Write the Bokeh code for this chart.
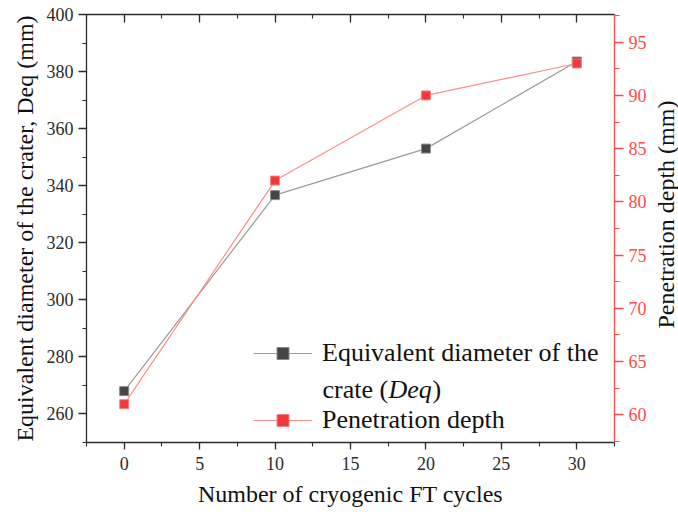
import math
from bokeh.plotting import figure
from bokeh.models import (Range1d, LinearAxis, SingleIntervalTicker, Legend,
                          LegendItem, Label)
from bokeh.embed import file_html
from bokeh.resources import INLINE

# Freeze-thaw test results
cycles = [0, 10, 20, 30]
deq_mm = [268, 336.7, 353, 383.5]          # equivalent crater diameter
depth_mm = [61, 82, 90, 93]               # penetration depth

x_ticks_interval = 5
deq_ticks_interval = 20
depth_ticks_interval = 5

FONT = "Liberation Serif"
RED = "#FF4A4A"
AXIS = "#2b2b2b"

p = figure(frame_width=528, frame_height=428,
           min_border_left=86, min_border_right=64,
           min_border_top=14, min_border_bottom=75,
           x_range=Range1d(-2.5, 32.5), y_range=Range1d(250, 400),
           output_backend="svg", toolbar_location=None,
           x_axis_type=None, y_axis_type=None)
p.outline_line_color = None
p.grid.visible = False
p.background_fill_color = "white"
p.border_fill_color = "white"

p.extra_y_ranges = {"depth": Range1d(57.4, 97.6)}


def style_axis(ax, color=AXIS, label_color=AXIS):
    ax.axis_line_color = color
    ax.axis_line_width = 1.3
    ax.major_tick_line_color = color
    ax.minor_tick_line_color = color
    ax.major_tick_line_width = 1.3
    ax.minor_tick_line_width = 1.1
    ax.major_label_text_font = FONT
    ax.major_label_text_font_size = "18px"
    ax.major_label_text_color = label_color
    ax.axis_label_text_font = FONT
    ax.axis_label_text_font_size = "24px"
    ax.axis_label_text_font_style = "normal"
    ax.axis_label_text_color = "#111111"


# bottom axis
xax = LinearAxis(ticker=SingleIntervalTicker(interval=x_ticks_interval, num_minor_ticks=2),
                 axis_label="Number of cryogenic FT cycles")
style_axis(xax)
xax.major_tick_in, xax.major_tick_out = 0, 7
xax.minor_tick_in, xax.minor_tick_out = 0, 4
xax.major_label_standoff = 7
xax.axis_label_standoff = 8
p.add_layout(xax, "below")

# top frame edge with inward ticks, no tick labels
tax = LinearAxis(ticker=SingleIntervalTicker(interval=x_ticks_interval, num_minor_ticks=2))
style_axis(tax)
tax.major_tick_in, tax.major_tick_out = 8, 0
tax.minor_tick_in, tax.minor_tick_out = 4, 0
tax.major_label_text_font_size = "1px"
tax.major_label_text_color = None
tax.major_label_standoff = 0
p.add_layout(tax, "above")

# left axis: crater diameter
yax = LinearAxis(ticker=SingleIntervalTicker(interval=deq_ticks_interval, num_minor_ticks=2),
                 axis_label="Equivalent diameter of the crater, Deq (mm)")
style_axis(yax)
yax.major_tick_in, yax.major_tick_out = 0, 8
yax.minor_tick_in, yax.minor_tick_out = 0, 4
yax.major_label_standoff = 5
yax.axis_label_standoff = 6
p.add_layout(yax, "left")

# right axis: penetration depth, title reading upward
depth_title = "Penetration depth (mm)"
rax = LinearAxis(y_range_name="depth",
                 ticker=SingleIntervalTicker(interval=depth_ticks_interval, num_minor_ticks=2))
style_axis(rax, color=RED, label_color=RED)
rax.major_tick_in, rax.major_tick_out = 0, 9
rax.minor_tick_in, rax.minor_tick_out = 0, 5
rax.major_label_standoff = 5
rax.axis_label_standoff = 16
rax.axis_label_orientation = math.pi / 2
try:
    # anchor the upward title at the bottom end and lift it to mid-height
    rax.axis_label_align = "start"
    rax.axis_label = "\u00a0" * 19 + depth_title
except (AttributeError, ValueError):
    rax.axis_label = depth_title
p.add_layout(rax, "right")

# series
l1 = p.line(cycles, deq_mm, line_color="#9a9a9a", line_width=1.2)
s1 = p.scatter(cycles, deq_mm, marker="square", size=9,
               fill_color="#454545", line_color="#8a8a8a", line_width=1)
l2 = p.line(cycles, depth_mm, y_range_name="depth", line_color="#FF8C8C", line_width=1.2)
s2 = p.scatter(cycles, depth_mm, y_range_name="depth", marker="square", size=9,
               fill_color="#EE3A3A", line_color="#FF8080", line_width=1)


# legend
def make_legend(label, renderers, loc):
    lg = Legend(items=[LegendItem(label=label, renderers=renderers)],
                location=loc, orientation="vertical",
                glyph_width=59, glyph_height=30, label_height=30,
                label_standoff=10, padding=0, margin=0, spacing=0,
                border_line_color=None, background_fill_alpha=0,
                label_text_font=FONT, label_text_font_size="26px",
                label_text_color="#111111")
    p.add_layout(lg, "center")


make_legend("Equivalent diameter of the", [l1, s1], (167, 74))
make_legend("Penetration depth", [l2, s2], (167, 7))

line2_y = 53
p.add_layout(Label(x=236, y=line2_y, x_units="screen", y_units="screen",
                   text="crate (", text_font=FONT, text_font_size="26px",
                   text_color="#111111", text_baseline="alphabetic"))
p.add_layout(Label(x=302, y=line2_y, x_units="screen", y_units="screen",
                   text="Deq", text_font=FONT, text_font_size="26px",
                   text_font_style="italic",
                   text_color="#111111", text_baseline="alphabetic"))
p.add_layout(Label(x=346, y=line2_y, x_units="screen", y_units="screen",
                   text=")", text_font=FONT, text_font_size="26px",
                   text_color="#111111", text_baseline="alphabetic"))

open("out.html", "w").write(file_html(p, INLINE))
